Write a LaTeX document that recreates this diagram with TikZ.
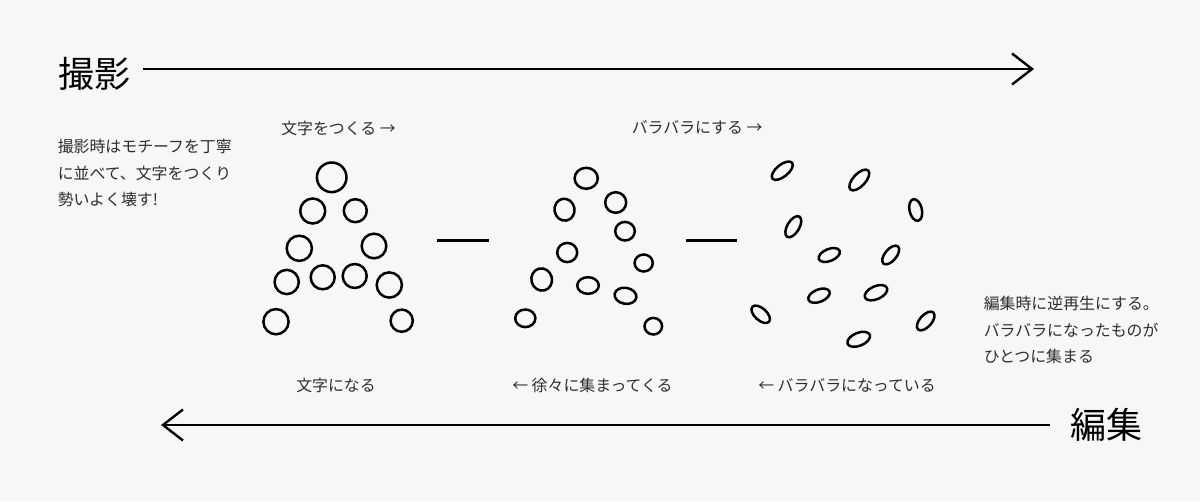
\documentclass[tikz,border=0pt]{standalone}
\usepackage{fontspec}
\setmainfont{Noto Sans CJK JP}
\usetikzlibrary{arrows.meta}
\definecolor{paper}{HTML}{F7F8F6}
\definecolor{ink}{HTML}{2E2E2E}

\begin{document}
\begin{tikzpicture}[x=1pt, y=-1pt, line width=2.5pt,
    title/.style={font=\fontsize{36}{36}\selectfont, inner sep=0pt},
    note/.style={ink, font=\fontsize{15.9}{26.6}\selectfont, inner sep=0pt, align=left},
    timeline/.style={line width=2.4pt, -{Straight Barb[length=20pt, width=31pt]}}]
    \fill[paper] (0,0) rectangle (1200,501);
    \useasboundingbox (0,0) rectangle (1200,501);

    % shooting and editing directions
    \node[title] (shoot) at (94,74) {撮影};
    \node[title] (edit) at (1106,425) {編集};
    \coordinate (shootstart) at (143,69);
    \coordinate (shootend) at (1034,69);
    \coordinate (editstart) at (1050,425);
    \coordinate (editend) at (161,425);
    \draw[timeline] (shootstart) -- (shootend);
    \draw[timeline] (editstart) -- (editend);

    \node[note, anchor=west] (shootnote) at (56.5,173.3) {撮影時はモチーフを丁寧\\に並べて、文字をつくり\\勢いよく壊す!};
    \node[note, anchor=west] (editnote) at (982.5,330.3) {編集時に逆再生にする。\\バラバラになったものが\\ひとつに集まる};

    \node[note, anchor=west] (lblmake) at (280,128) {文字をつくる →};
    \node[note, anchor=west] (lblbreak) at (630.5,127) {バラバラにする →};
    \node[note, anchor=west] (lblletter) at (295,385) {文字になる};
    \node[note, anchor=west] (lblgather) at (511,385) {← 徐々に集まってくる};
    \node[note, anchor=west] (lblscatter) at (757,385) {← バラバラになっている};

    % the letter A
    \draw (331.7,177.3) circle (14.8);
    \draw (312.7,211.0) circle (12.5);
    \draw (355.3,210.7) circle (11.5);
    \draw (299.3,248.3) circle (12.6);
    \draw (374.0,246.0) circle (12.3);
    \draw (286.7,282.0) circle (12.1);
    \draw (322.7,277.3) circle (12.0);
    \draw (354.7,276.0) circle (12.0);
    \draw (389.3,285.0) circle (12.6);
    \draw (276.0,321.7) circle (12.6);
    \draw (401.7,320.7) circle (11.1);

    \draw (437,240.5) -- (489,240.5);

    % loosening up
    \draw (586.2,178.3) ellipse [x radius=11.6, y radius=10.5];
    \draw (564.5,209.7) ellipse [x radius=10, y radius=11, rotate=10];
    \draw (615.7,202.5) ellipse [x radius=10.5, y radius=10.3];
    \draw (625.0,231.2) ellipse [x radius=9.8, y radius=9.3];
    \draw (567.2,252.5) ellipse [x radius=10, y radius=9.6];
    \draw (643.7,263.0) ellipse [x radius=9.1, y radius=8.5];
    \draw (541.7,279.5) ellipse [x radius=10.3, y radius=11.2, rotate=15];
    \draw (588.0,285.5) ellipse [x radius=10.8, y radius=8.3];
    \draw (625.5,295.8) ellipse [x radius=11, y radius=8, rotate=-10];
    \draw (525.3,318.3) ellipse [x radius=10.1, y radius=8.8];
    \draw (653.3,326.2) ellipse [x radius=8.8, y radius=8.3];

    \draw (686,240.5) -- (737,240.5);

    % scattered
    \draw (782.3,170.7) ellipse [x radius=12.6, y radius=6, rotate=39];
    \draw (859.3,180.0) ellipse [x radius=13, y radius=6.2, rotate=47];
    \draw (915.7,210.0) ellipse [x radius=11, y radius=6.2, rotate=-77];
    \draw (793.3,226.7) ellipse [x radius=11.8, y radius=6, rotate=59];
    \draw (829.3,255.0) ellipse [x radius=11.2, y radius=6, rotate=22];
    \draw (890.7,255.0) ellipse [x radius=11.2, y radius=5.8, rotate=50];
    \draw (819.0,295.7) ellipse [x radius=11.3, y radius=6.2, rotate=22];
    \draw (876.0,292.7) ellipse [x radius=12, y radius=6.5, rotate=24];
    \draw (760.7,314.3) ellipse [x radius=11.2, y radius=6, rotate=-42];
    \draw (925.7,321.0) ellipse [x radius=11.4, y radius=6, rotate=48];
    \draw (858.7,339.3) ellipse [x radius=12, y radius=6.5, rotate=22];

\end{tikzpicture}
\end{document}
